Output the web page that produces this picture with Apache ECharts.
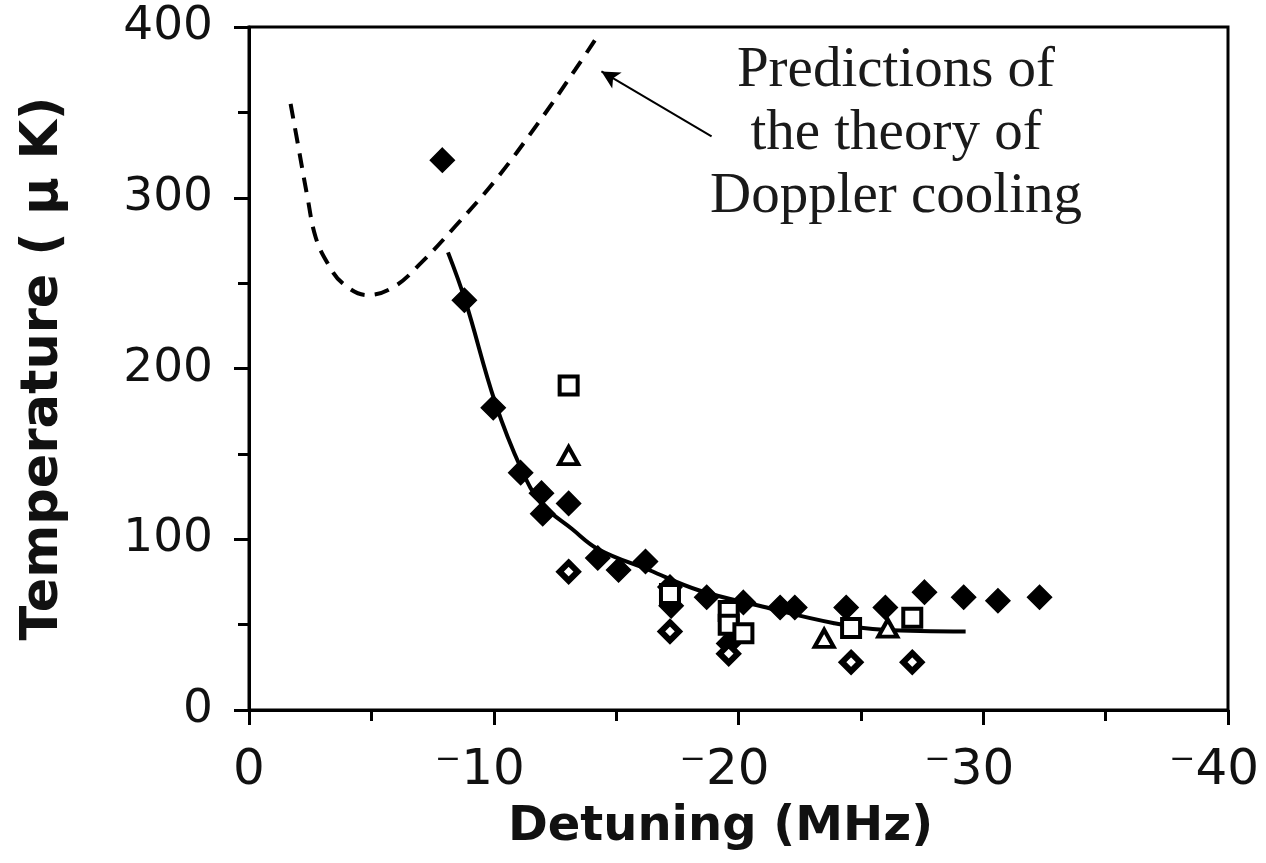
<!DOCTYPE html>
<html>
<head>
<meta charset="utf-8">
<script src="https://cdn.jsdelivr.net/npm/echarts@6/dist/echarts.min.js"></script>
<style>
html,body{margin:0;padding:0;background:#fff;}
#chart{width:1266px;height:863px;}
</style>
</head>
<body>
<div id="chart"></div>
<script>
// Detuning in MHz (negative), temperature in microkelvin
const theoryX = [-1.70, -2.04, -2.38, -2.72, -3.20, -3.82, -4.85, -5.94, -7.04, -8.41, -10.05, -11.83, -13.33, -14.35];
const theoryY = [355, 328, 301, 277, 262, 250, 243, 248, 262, 283, 310, 344, 375, 397];

const fitX = [-8.13, -8.83, -10.06, -11.13, -11.95, -13.2, -14.29, -16.34, -18.40, -21.15, -23.86, -25.91, -29.28];
const fitY = [268, 240, 180, 141, 121, 106, 94, 82, 70, 60, 51, 47, 46];

const filledDiamondX = [-7.9, -8.8, -9.98, -11.1, -11.95, -12.0, -13.06, -14.25, -15.1, -16.2, -17.2, -17.25, -18.7, -19.6, -20.2, -21.7, -22.3, -24.4, -26.0, -27.6, -29.2, -30.6, -32.3];
const filledDiamondY = [322, 240, 177, 139, 127, 115, 121, 89, 82, 87, 72, 61, 66, 39, 63, 60, 60, 60, 60, 69, 66, 64, 66];

const squareX = [-13.06, -17.2, -19.6, -19.6, -20.2, -24.6, -27.1];
const squareY = [190, 68, 58, 50, 45, 48, 54];

const triangleX = [-13.06, -23.5, -26.1];
const triangleY = [149, 42, 48];

const openDiamondX = [-13.06, -17.2, -19.6, -24.6, -27.1];
const openDiamondY = [81, 46, 33, 28, 28];

const xTicks = [0, -10, -20, -30, -40];
const yTicks = [0, 100, 200, 300, 400];

const annotationLines = ['Predictions of', 'the theory of', 'Doppler cooling'];
const arrowFrom = [-18.9, 336];
const arrowTo = [-14.4, 374];

function zip(xs, ys) { return xs.map((x, i) => [x, ys[i]]); }

const chart = echarts.init(document.getElementById('chart'));
const BLACK = '#000';
const sansFont = 'DejaVu Sans';

chart.setOption({
  backgroundColor: '#fff',
  animation: false,
  grid: {
    left: 249, right: 38, top: 27, bottom: 153,
    outerBoundsMode: 'none', containLabel: false,
    show: true, borderColor: BLACK, borderWidth: 3, backgroundColor: 'transparent'
  },
  xAxis: {
    type: 'value', min: -40, max: 0, interval: 10, inverse: true,
    axisLine: { show: true, onZero: false, lineStyle: { color: BLACK, width: 3 } },
    axisTick: { show: true, inside: false, length: 15, lineStyle: { color: BLACK, width: 3 } },
    minorTick: { show: true, splitNumber: 2, length: 11, lineStyle: { color: BLACK, width: 3 } },
    splitLine: { show: false },
    axisLabel: {
      color: '#111', fontFamily: sansFont, fontSize: 50, margin: 36,
      formatter: v => (v === 0 ? '{z|0}' : '{n|\u207B' + Math.abs(v) + '}'),
      rich: {
        z: { color: '#111', fontFamily: sansFont, fontSize: 50 },
        n: { color: '#111', fontFamily: sansFont, fontSize: 50, padding: [0, 28, 0, 0] }
      }
    },
    name: 'Detuning (MHz)', nameLocation: 'middle', nameGap: 94,
    nameTextStyle: { color: '#111', fontFamily: sansFont, fontWeight: 'bold', fontSize: 48, padding: [0, 36, 0, 0] }
  },
  yAxis: {
    type: 'value', min: 0, max: 400, interval: 100,
    axisLine: { show: true, onZero: false, lineStyle: { color: BLACK, width: 3 } },
    axisTick: { show: true, inside: false, length: 15, lineStyle: { color: BLACK, width: 3 } },
    minorTick: { show: true, splitNumber: 2, length: 11, lineStyle: { color: BLACK, width: 3 } },
    splitLine: { show: false },
    axisLabel: { color: '#111', fontFamily: sansFont, fontSize: 47, margin: 36 },
    name: 'Temperature ( \u03BC K)', nameLocation: 'middle', nameGap: 180,
    nameTextStyle: { color: '#111', fontFamily: sansFont, fontWeight: 'bold', fontSize: 51 }
  },
  series: [
    {
      name: 'theory', type: 'line', data: zip(theoryX, theoryY), smooth: 0.4,
      showSymbol: false, symbol: 'none',
      lineStyle: { color: BLACK, width: 4, type: [15, 10], opacity: 1 },
      markLine: {
        silent: true, symbol: ['none', 'arrow'], symbolSize: [14, 18],
        label: { show: false },
        lineStyle: { color: BLACK, width: 2, type: 'solid', opacity: 1 },
        data: [[{ coord: arrowFrom }, { coord: arrowTo }]]
      },
      z: 3
    },
    {
      name: 'fit', type: 'line', data: zip(fitX, fitY), smooth: 0.4,
      showSymbol: false, symbol: 'none',
      lineStyle: { color: BLACK, width: 4, opacity: 1 }, z: 3
    },
    {
      name: 'filled diamonds', type: 'scatter', data: zip(filledDiamondX, filledDiamondY),
      symbol: 'diamond', symbolSize: 24,
      itemStyle: { color: BLACK, borderColor: BLACK, borderWidth: 1.5, opacity: 1 }, z: 4
    },
    {
      name: 'open squares', type: 'scatter', data: zip(squareX, squareY),
      symbol: 'rect', symbolSize: 18,
      itemStyle: { color: '#fff', borderColor: BLACK, borderWidth: 4, opacity: 1 }, z: 5
    },
    {
      name: 'open triangles', type: 'scatter', data: zip(triangleX, triangleY),
      symbol: 'triangle', symbolSize: [19, 17],
      itemStyle: { color: '#fff', borderColor: BLACK, borderWidth: 4, opacity: 1 }, z: 5
    },
    {
      name: 'open diamonds', type: 'scatter', data: zip(openDiamondX, openDiamondY),
      symbol: 'diamond', symbolSize: 18,
      itemStyle: { color: '#fff', borderColor: BLACK, borderWidth: 6, opacity: 1 }, z: 5
    }
  ],
  graphic: annotationLines.map((t, i) => ({
    type: 'text', x: 896, y: 71 + i * 63,
    style: {
      text: t, fill: '#1a1a1a', font: '57px "Liberation Serif"',
      align: 'center', verticalAlign: 'middle'
    },
    z: 10
  }))
});
</script>
</body>
</html>
